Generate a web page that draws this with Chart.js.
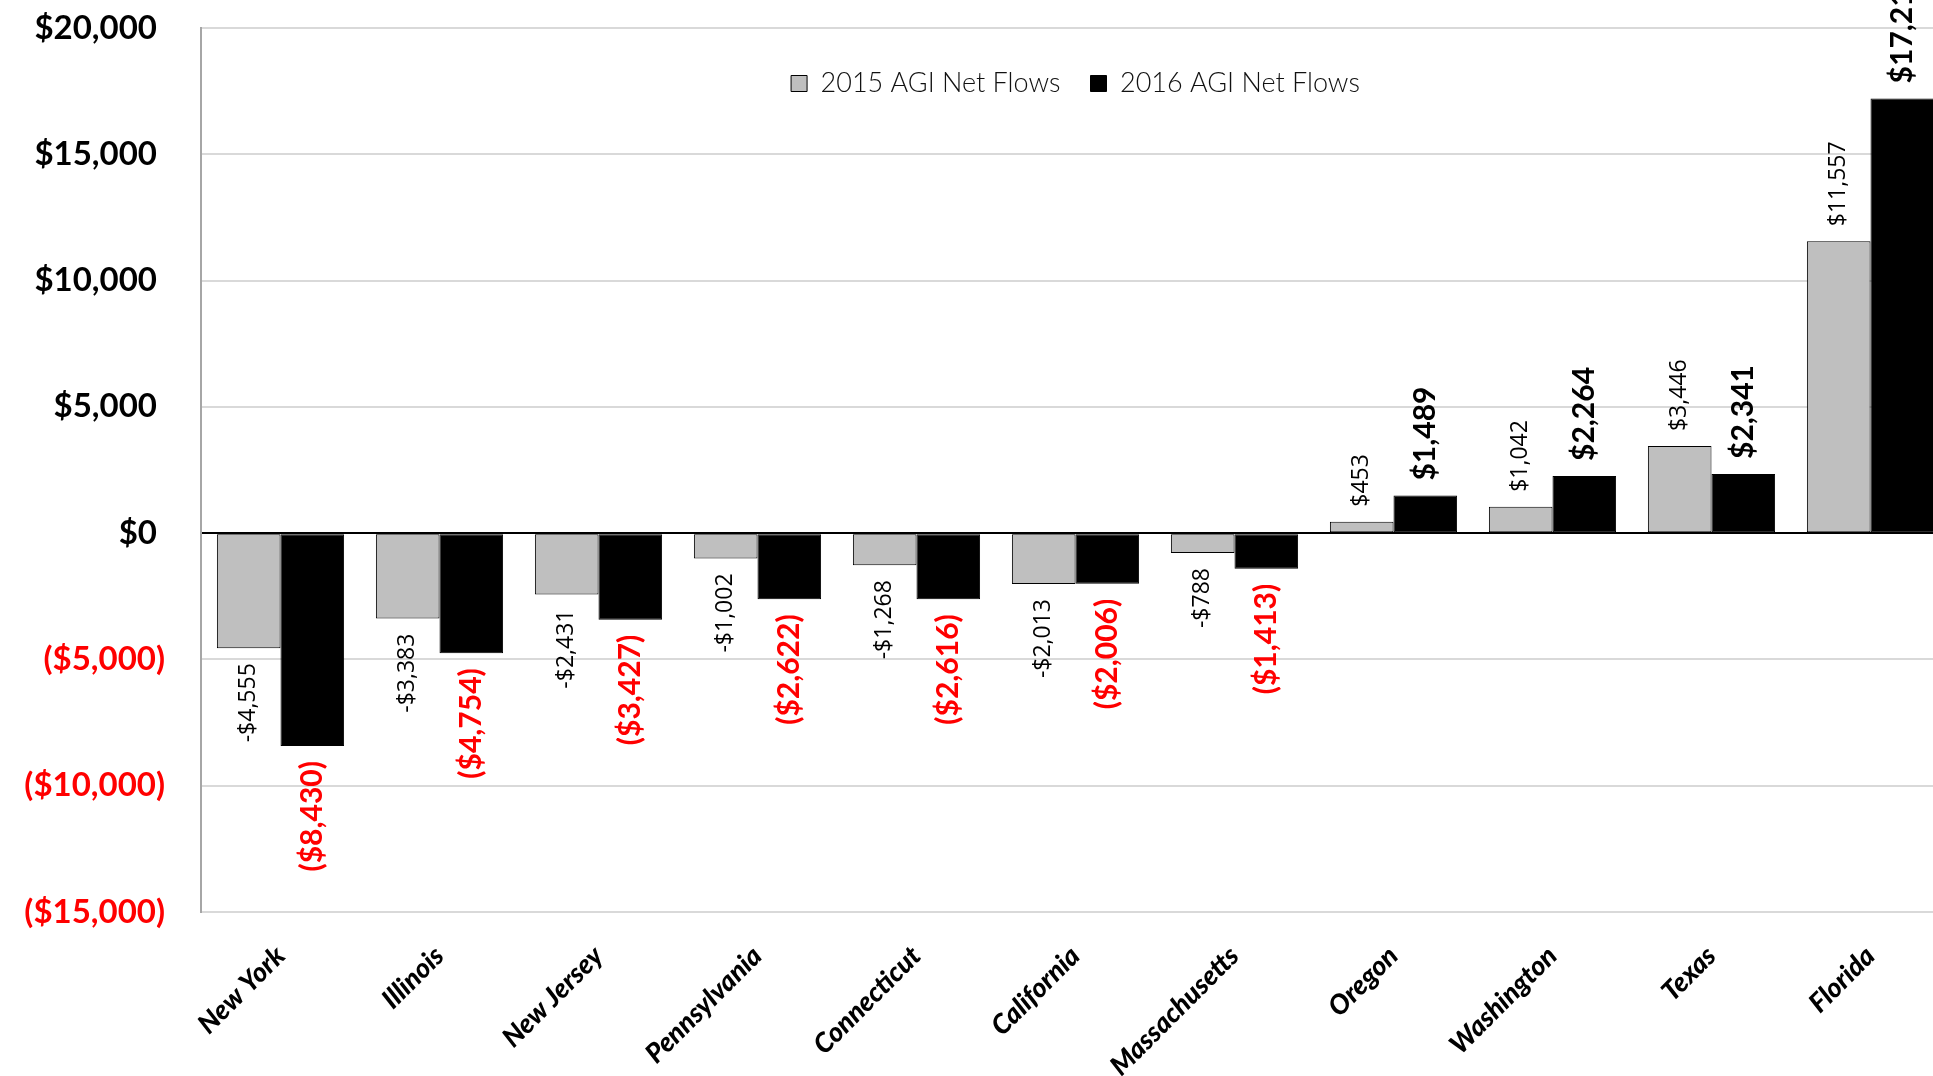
<!DOCTYPE html>
<html>
<head>
<meta charset="utf-8">
<script src="https://cdn.jsdelivr.net/npm/chart.js@4.4.1/dist/chart.umd.min.js"></script>
<style>
  html, body { margin: 0; padding: 0; background: #fff; overflow: hidden; }
  #wrap { width: 1933px; height: 1076px; overflow: hidden; position: relative; }
  canvas { display: block; }
</style>
</head>
<body>
<div id="wrap"><canvas id="c" width="1960" height="1076"></canvas></div>
<script>
// Net AGI flows by state ($ millions)
const states = ['New York', 'Illinois', 'New Jersey', 'Pennsylvania', 'Connecticut',
  'California', 'Massachusetts', 'Oregon', 'Washington', 'Texas', 'Florida'];
const flows2015 = [-4555, -3383, -2431, -1002, -1268, -2013, -788, 453, 1042, 3446, 11557];
const flows2016 = [-8430, -4754, -3427, -2622, -2616, -2006, -1413, 1489, 2264, 2341, 17213];
const seriesNames = ['2015 AGI Net Flows', '2016 AGI Net Flows'];
const yTickValues = [-15000, -10000, -5000, 0, 5000, 10000, 15000, 20000];
const yTickLabels = ['($15,000)', '($10,000)', '($5,000)', '$0', '$5,000', '$10,000', '$15,000', '$20,000'];

const FONT = 'Lato, "Open Sans", sans-serif';
const fmt = n => Math.abs(n).toLocaleString('en-US');

// Per-series styling of the value labels at the bar ends
const labelStyles = [
  { font: '400 23px "Open Sans", sans-serif', pos: '#000', neg: '#000',
    text: v => (v < 0 ? '-$' : '$') + fmt(v) },
  { font: '700 30px ' + FONT, pos: '#000', neg: '#FF0000',
    text: v => v < 0 ? '($' + fmt(v) + ')' : '$' + fmt(v) }
];
const LABEL_GAP = 15;

const valueLabels = {
  id: 'valueLabels',
  afterDatasetsDraw(chart) {
    const ctx = chart.ctx;
    chart.data.datasets.forEach((ds, di) => {
      const st = labelStyles[di];
      chart.getDatasetMeta(di).data.forEach((bar, i) => {
        const v = ds.data[i];
        ctx.save();
        ctx.translate(bar.x, v >= 0 ? bar.y - LABEL_GAP : bar.y + LABEL_GAP);
        ctx.rotate(-Math.PI / 2);
        ctx.font = st.font;
        ctx.fillStyle = v < 0 ? st.neg : st.pos;
        ctx.textAlign = v >= 0 ? 'left' : 'right';
        ctx.textBaseline = 'middle';
        ctx.fillText(st.text(v), 0, 0);
        ctx.restore();
      });
    });
  }
};

// Let the legend float over the top of the plot instead of reserving a band for it:
// it reports zero height to the layout, then gets its real height back for drawing.
const legendOverlay = {
  id: 'legendOverlay',
  beforeLayout(chart) {
    const lg = chart.legend;
    if (lg && !lg._overlay) {
      const fit = lg.fit;
      lg.fit = function () { fit.call(this); this._fullHeight = this.height; this.height = 0; };
      lg._overlay = true;
    }
  },
  afterLayout(chart) {
    const lg = chart.legend;
    if (lg && lg._fullHeight) {
      lg.height = lg._fullHeight;
      lg.bottom = lg.top + lg.height;
    }
  }
};

new Chart(document.getElementById('c'), {
  type: 'bar',
  data: {
    labels: states,
    datasets: [
      { label: seriesNames[0], data: flows2015, backgroundColor: '#BFBFBF',
        borderColor: '#000', borderWidth: 1, borderSkipped: false },
      { label: seriesNames[1], data: flows2016, backgroundColor: '#000',
        borderColor: '#000', borderWidth: 1, borderSkipped: false }
    ]
  },
  options: {
    responsive: false,
    animation: false,
    devicePixelRatio: 1,
    categoryPercentage: 0.8,
    barPercentage: 1.0,
    layout: { padding: { top: 28, right: 10, left: 0, bottom: 0 } },
    plugins: {
      tooltip: { enabled: false },
      legend: {
        position: 'top',
        align: 'center',
        fullSize: false,
        title: { display: true, text: ' ', padding: 0, font: { size: 10 } },
        labels: {
          color: '#111',
          font: { family: FONT, size: 27, weight: '300' },
          boxWidth: 16, boxHeight: 16,
          padding: 30
        }
      }
    },
    scales: {
      x: {
        grid: { display: false },
        border: { display: false },
        ticks: {
          color: '#000',
          font: { family: FONT, size: 27, weight: '900', style: 'italic' },
          minRotation: 45, maxRotation: 45,
          padding: 20,
          autoSkip: false
        },
        afterFit(scale) { scale.height = 164; }
      },
      y: {
        min: -15000, max: 20000,
        afterBuildTicks(scale) { scale.ticks = yTickValues.map(v => ({ value: v })); },
        grid: {
          drawTicks: true,
          tickLength: 36,
          tickColor: 'rgba(0,0,0,0)',
          color: c => (c.tick && c.tick.value === 0) ? '#000' : '#D9D9D9',
          lineWidth: 2
        },
        border: { display: true, color: '#A6A6A6', width: 2 },
        ticks: {
          padding: 0,
          font: { family: FONT, size: 33, weight: '700' },
          color: c => c.tick.value < 0 ? '#FF0000' : '#000',
          callback: (v) => {
            const lbl = yTickLabels[yTickValues.indexOf(v)];
            return v < 0 ? lbl : lbl + ' ';
          }
        },
        afterFit(scale) { scale.width = 201; }
      }
    }
  },
  plugins: [legendOverlay, valueLabels]
});
</script>
</body>
</html>
